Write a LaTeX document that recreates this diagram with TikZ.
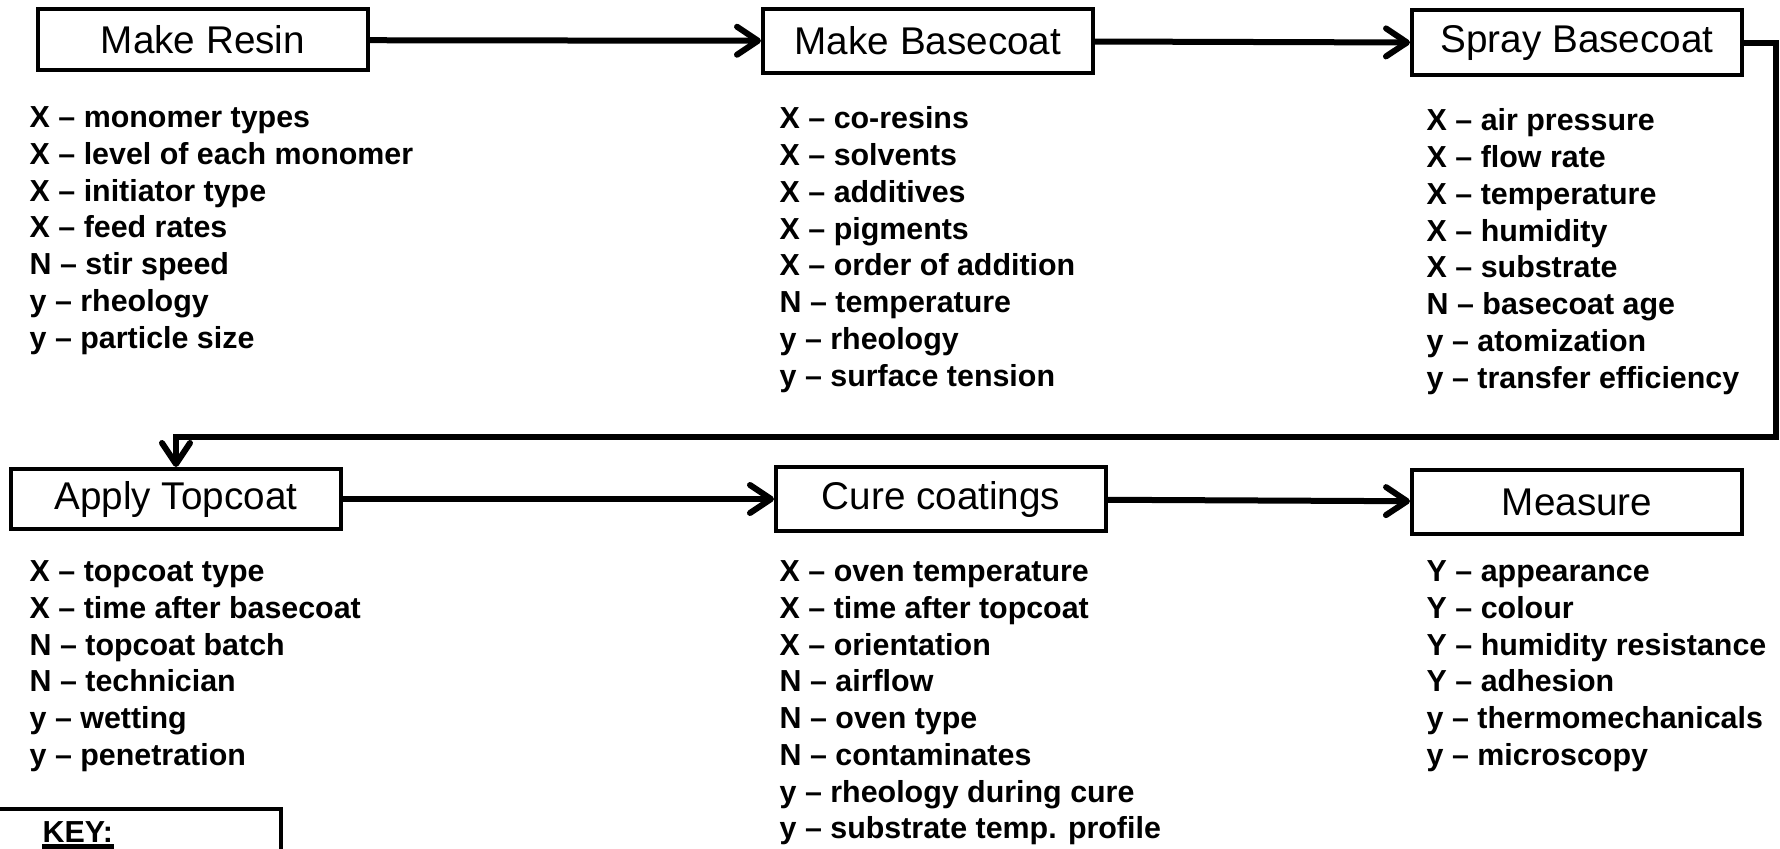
\documentclass[tikz,border=0pt]{standalone}
\usepackage{fontspec}
\setmainfont{Liberation Sans}
\usetikzlibrary{arrows.meta}
\tikzset{
    stagebox/.style={rectangle, draw=black, line width=0.4mm, minimum width=33mm,
                     minimum height=6.3mm, inner sep=0pt, font=\fontsize{11}{13}\selectfont},
    factorlist/.style={anchor=north west, inner sep=0pt, align=left,
                       font=\fontsize{8.65}{10.46}\selectfont\bfseries},
    arrow/.style={-{Straight Barb[length=2.1mm, width=2.8mm, round]}, line width=0.6mm},
}

\begin{document}
\begin{tikzpicture}[x=0.1mm, y=-0.1mm]
            \useasboundingbox (0,0) rectangle (1780,848);
            \node[stagebox, minimum height=6.1mm] (resin) at (203, 40) {Make Resin};
            \node[stagebox, minimum height=6.4mm] (basecoat) at (928, 41) {Make Basecoat};
            \node[stagebox, minimum height=6.5mm] (spray) at (1577, 43) {Spray Basecoat};
            \node[stagebox, minimum height=6.0mm] (apply) at (176, 499) {Apply Topcoat};
            \node[stagebox, minimum height=6.4mm] (cure) at (941, 499) {Cure coatings};
            \node[stagebox, minimum height=6.4mm] (measure) at (1577, 502) {Measure};

            \node[factorlist] (resinvars) at (29, 106) {X -- monomer types\\X -- level of each monomer\\X -- initiator type\\X -- feed rates\\N -- stir speed\\y -- rheology\\y -- particle size};
            \node[factorlist] (basecoatvars) at (779, 106) {X -- co-resins\\X -- solvents\\X -- additives\\X -- pigments\\X -- order of addition\\N -- temperature\\y -- rheology\\y -- surface tension};
            \node[factorlist] (sprayvars) at (1426, 108) {X -- air pressure\\X -- flow rate\\X -- temperature\\X -- humidity\\X -- substrate\\N -- basecoat age\\y -- atomization\\y -- transfer efficiency};
            \node[factorlist] (applyvars) at (29, 560) {X -- topcoat type\\X -- time after basecoat\\N -- topcoat batch\\N -- technician\\y -- wetting\\y -- penetration};
            \node[factorlist] (curevars) at (779, 560) {X -- oven temperature\\X -- time after topcoat\\X -- orientation\\N -- airflow\\N -- oven type\\N -- contaminates\\y -- rheology during cure\\y -- substrate temp. profile};
            \node[factorlist] (measurevars) at (1426, 560) {Y -- appearance\\Y -- colour\\Y -- humidity resistance\\Y -- adhesion\\y -- thermomechanicals\\y -- microscopy};

            % key box, cut off at the bottom
            \draw[line width=0.4mm] (-10, 900) |- (281, 809) -- (281, 900);
            \node[factorlist, anchor=base west, inner ysep=0.4mm] (key) at (42, 842) {KEY:};
            \draw[line width=0.45mm] (key.south west) -- (key.south east);

            \draw[arrow] (resin) -- (basecoat);
            \draw[arrow] (basecoat) -- (spray);
            \coordinate (loopcorner) at (1776, 437);
            \draw[arrow] (spray.east) -| (loopcorner) -| (apply.north);
            \draw[arrow] (apply) -- (cure);
            \draw[arrow] (cure) -- (measure);
        \end{tikzpicture}
\end{document}
